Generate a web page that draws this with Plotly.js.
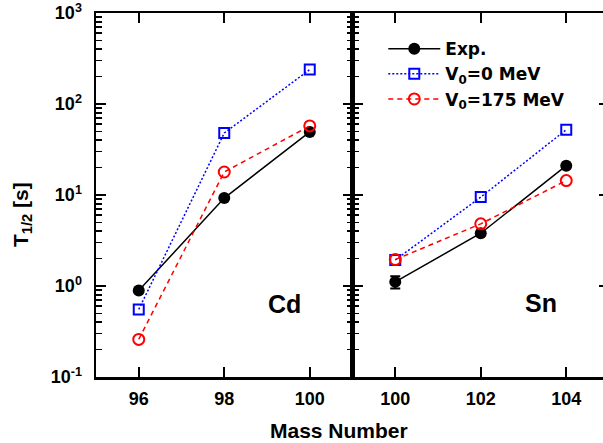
<!DOCTYPE html>
<html>
<head>
<meta charset="utf-8">
<script src="https://cdn.plot.ly/plotly-3.0.1.min.js"></script>
<style>
html, body { margin: 0; padding: 0; overflow: hidden; background: #fff; }
#chart { width: 620px; height: 443px; }
</style>
</head>
<body>
<div id="chart"></div>
<script>
// ---- data ----
const massCd = [96, 98, 100];
const expCd = [0.89, 9.25, 49.3];
const v0Cd = [0.553, 48, 239];
const v175Cd = [0.259, 17.9, 57.4];

const massSn = [100, 102, 104];
const expSn = [1.11, 3.80, 21.0];
const expSnErr = [0.17, 0, 0];
const v0Sn = [1.93, 9.48, 52.2];
const v175Sn = [1.95, 4.82, 14.4];

const seriesNames = ['Exp.', 'V<sub>0</sub>=0 MeV', 'V<sub>0</sub>=175 MeV'];
const cdTicks = [96, 98, 100];
const snTicks = [100, 102, 104];
const yTickVals = [0.1, 1, 10, 100, 1000];
const yTickText = ['10<sup>-1</sup>', '10<sup>0</sup>', '10<sup>1</sup>', '10<sup>2</sup>', '10<sup>3</sup>'];
const panelLabels = ['Cd', 'Sn'];
const xTitle = 'Mass Number';
const yTitle = 'T<sub>1/2</sub> [s]';

// ---- styles ----
const expStyle = {
  mode: 'lines+markers',
  line: {color: '#000000', width: 1.5},
  marker: {symbol: 'circle', size: 12, color: '#000000'}
};
const v0Style = {
  mode: 'lines+markers',
  line: {color: '#0000ff', width: 1.5, dash: '2px,2px'},
  marker: {symbol: 'square-open', size: 10, color: '#0000ff', line: {width: 2, color: '#0000ff'}}
};
const v175Style = {
  mode: 'lines+markers',
  line: {color: '#ff0000', width: 1.5, dash: '5px,4px'},
  marker: {symbol: 'circle-open', size: 11, color: '#ff0000', line: {width: 2, color: '#ff0000'}}
};

function tr(x, y, style, name, axes, show, extra) {
  return Object.assign({
    x: x, y: y, name: name, legendgroup: name, showlegend: show,
    xaxis: axes[0], yaxis: axes[1], type: 'scatter'
  }, JSON.parse(JSON.stringify(style)), extra || {});
}

const data = [
  tr(massCd, expCd, expStyle, seriesNames[0], ['x', 'y'], true),
  tr(massCd, v0Cd, v0Style, seriesNames[1], ['x', 'y'], true),
  tr(massCd, v175Cd, v175Style, seriesNames[2], ['x', 'y'], true),
  tr(massSn, expSn, expStyle, seriesNames[0], ['x2', 'y2'], false,
     {error_y: {type: 'data', array: expSnErr, visible: true, color: '#000', thickness: 2, width: 5}}),
  tr(massSn, v0Sn, v0Style, seriesNames[1], ['x2', 'y2'], false),
  tr(massSn, v175Sn, v175Style, seriesNames[2], ['x2', 'y2'], false)
];

const tickFont = {family: 'Liberation Sans, Arial, sans-serif', size: 18, color: '#000', weight: 'bold'};

const xBase = {
  showline: true, linewidth: 2.5, linecolor: '#000', mirror: 'ticks',
  ticks: 'inside', ticklen: 10, tickwidth: 2, tickcolor: '#000',
  showgrid: false, zeroline: false, tickmode: 'array',
  tickfont: tickFont, ticklabelstandoff: 4
};
const yBase = {
  type: 'log', range: [-1, 3],
  showline: true, linewidth: 2.5, linecolor: '#000', mirror: 'ticks',
  ticks: 'inside', ticklen: 10, tickwidth: 2, tickcolor: '#000',
  showgrid: false, zeroline: false,
  tickmode: 'array', tickvals: yTickVals, ticktext: yTickText,
  tickfont: tickFont,
  minor: {ticks: 'inside', ticklen: 6, tickwidth: 1.5, tickcolor: '#000', dtick: 'D1', showgrid: false}
};

const layout = {
  width: 620, height: 443,
  margin: {l: 96, r: 11, t: 13, b: 66},
  paper_bgcolor: '#fff', plot_bgcolor: '#fff',
  showlegend: true,
  legend: {
    x: 0.56, y: 0.95, xanchor: 'left', yanchor: 'top',
    bgcolor: 'rgba(0,0,0,0)', borderwidth: 0,
    font: {family: 'DejaVu Sans, sans-serif', size: 17, color: '#000', weight: 'bold'},
    itemwidth: 52, tracegroupgap: 0
  },
  xaxis: Object.assign({}, xBase, {domain: [0, 0.5], range: [95, 101], tickvals: cdTicks, anchor: 'y'}),
  xaxis2: Object.assign({}, xBase, {domain: [0.5, 1], range: [99, 105], tickvals: snTicks, anchor: 'y2'}),
  yaxis: Object.assign({}, yBase, {anchor: 'x', ticklabelstandoff: 8}),
  yaxis2: Object.assign({}, yBase, {anchor: 'x2', showticklabels: false}),
  annotations: [
    {xref: 'x', yref: 'y', x: 99.41, y: -0.198, text: '<b>' + panelLabels[0] + '</b>', showarrow: false,
     font: {family: 'Liberation Sans, Arial, sans-serif', size: 25, color: '#000'}},
    {xref: 'x2', yref: 'y2', x: 103.42, y: -0.188, text: '<b>' + panelLabels[1] + '</b>', showarrow: false,
     font: {family: 'Liberation Sans, Arial, sans-serif', size: 25, color: '#000'}},
    {xref: 'paper', yref: 'paper', x: (339 - 96) / 513, y: -(431 - 377) / 364, text: '<b>' + xTitle + '</b>',
     showarrow: false, xanchor: 'center', yanchor: 'middle',
     font: {family: 'Liberation Sans, Arial, sans-serif', size: 21, color: '#000'}},
    {xref: 'paper', yref: 'paper', x: -(96 - 22) / 513, y: 1 - (215 - 13) / 364, text: '<b>' + yTitle + '</b>',
     showarrow: false, textangle: -90, xanchor: 'center', yanchor: 'middle',
     font: {family: 'Liberation Sans, Arial, sans-serif', size: 21, color: '#000'}}
  ]
};

Plotly.newPlot('chart', data, layout, {displayModeBar: false, staticPlot: true});
</script>
</body>
</html>
